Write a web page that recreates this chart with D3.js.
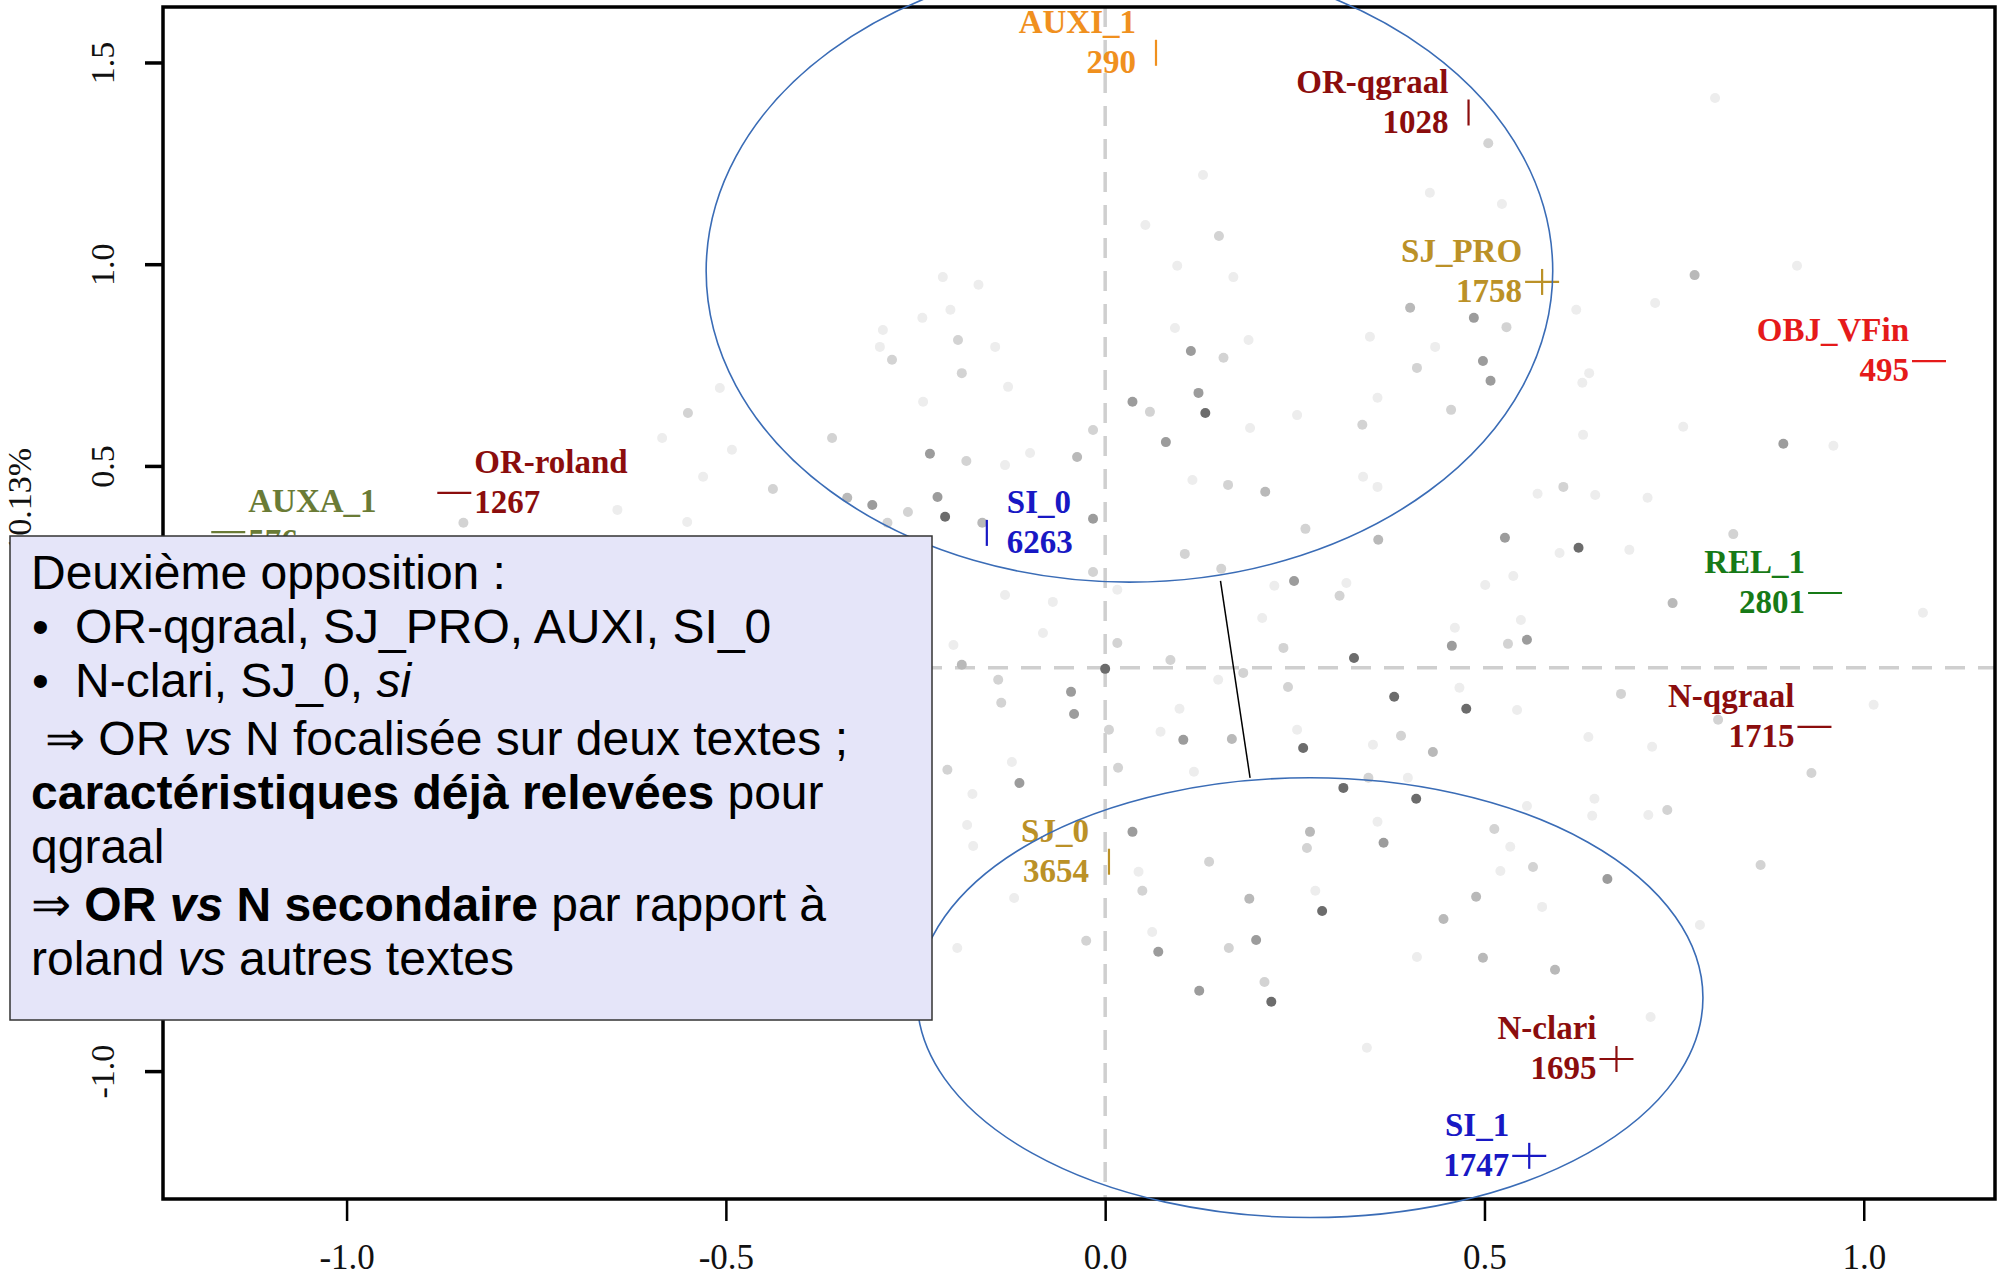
<!DOCTYPE html>
<html><head><meta charset="utf-8">
<script src="https://cdn.jsdelivr.net/npm/d3@7"></script>
<style>html,body{margin:0;padding:0;background:#fff;} svg{display:block;}</style>
</head><body>
<svg id="chart" width="2003" height="1278"></svg>
<script>
// ---------- data ----------
const xTicks = [-1.0, -0.5, 0.0, 0.5, 1.0];
const yTicks = [-1.0, -0.5, 0.0, 0.5, 1.0, 1.5];
const yTitle = "10.13%";

const dotX = [
-0.214,-0.167,-0.204,-0.241,-0.293,-0.194,-0.297,-0.281,-0.145,-0.189,
-0.128,-0.240,0.036,0.059,-0.016,0.080,-0.360,-0.550,-0.508,-0.492,
-0.231,-0.183,-0.037,-0.132,-0.099,-0.438,-0.530,-0.340,-0.307,-0.260,
-0.221,-0.211,-0.287,-0.162,-0.016,-0.016,0.016,-0.132,-0.069,-0.082,
-0.200,0.016,-0.189,0.000,0.086,-0.141,-0.045,-0.137,-0.041,0.005,
0.073,0.129,0.053,0.150,0.095,0.169,0.505,0.428,0.523,0.804,
0.402,0.486,0.529,0.725,0.621,0.435,0.349,0.189,0.092,0.113,
0.156,0.498,0.411,0.508,0.638,0.629,0.123,0.132,0.359,0.253,
0.339,0.456,0.191,0.630,0.162,0.211,0.115,0.340,0.359,0.604,
0.646,0.264,0.360,0.527,0.624,0.599,0.691,0.105,0.153,0.249,
0.223,0.318,0.309,0.207,0.548,0.461,0.235,0.457,0.531,0.556,
0.328,0.182,0.149,0.241,0.381,0.476,0.680,0.543,0.467,0.103,
0.167,0.390,0.261,0.637,0.098,0.253,0.432,0.353,-0.123,-0.208,
-0.113,0.017,0.117,-0.175,0.314,0.347,0.410,0.399,-0.182,-0.174,
0.036,0.270,0.266,0.367,0.359,0.137,0.044,0.049,-0.120,0.190,
0.277,0.286,0.446,-0.025,0.062,0.070,0.163,0.199,0.411,-0.195,
0.210,0.124,0.219,0.345,0.777,0.912,0.762,0.894,0.960,0.570,
0.715,0.828,0.538,0.501,0.748,1.078,0.808,1.013,0.721,0.931,
0.645,0.741,0.556,0.642,0.716,0.513,0.534,0.564,0.521,0.662,
0.864,0.489,0.576,0.784,0.498,0.593,0.719,-0.584,-0.643,-0.551,-0.846];

const dotY = [
0.968,0.949,0.887,0.867,0.837,0.812,0.795,0.763,0.795,0.730,
0.696,0.659,0.659,0.634,0.589,0.559,0.569,0.631,0.693,0.540,
0.530,0.512,0.522,0.502,0.532,0.443,0.473,0.421,0.403,0.386,
0.423,0.374,0.359,0.359,0.369,0.237,0.193,0.180,0.163,0.086,
0.056,0.061,0.007,-0.003,0.019,-0.030,-0.060,-0.087,-0.115,-0.154,
-0.159,1.221,1.097,1.070,0.996,0.968,1.300,1.177,1.149,1.412,
0.892,0.867,0.844,0.904,0.887,0.795,0.820,0.812,0.842,0.785,
0.768,0.760,0.743,0.711,0.730,0.706,0.681,0.631,0.669,0.626,
0.602,0.639,0.594,0.577,0.453,0.436,0.465,0.473,0.448,0.448,
0.428,0.344,0.317,0.322,0.297,0.284,0.292,0.282,0.245,0.215,
0.203,0.210,0.178,0.123,0.118,0.099,0.049,0.054,0.059,0.069,
0.024,-0.013,-0.030,-0.048,-0.072,-0.102,-0.065,-0.105,-0.050,-0.179,
-0.177,-0.169,-0.199,-0.172,-0.102,-0.154,-0.209,-0.191,-0.234,-0.253,
-0.286,-0.248,-0.258,-0.313,-0.298,-0.273,-0.325,-0.273,-0.390,-0.442,
-0.407,-0.407,-0.447,-0.434,-0.382,-0.481,-0.506,-0.553,-0.571,-0.573,
-0.553,-0.603,-0.623,-0.677,-0.655,-0.704,-0.695,-0.675,-0.717,-0.695,
-0.779,-0.801,-0.828,-0.942,0.973,0.996,0.597,0.555,0.550,0.431,
0.421,0.331,0.227,0.205,0.160,0.136,-0.129,-0.092,-0.196,-0.261,
-0.325,-0.353,-0.343,-0.367,-0.365,-0.400,-0.444,-0.494,-0.504,-0.524,
-0.489,-0.568,-0.593,-0.638,-0.719,-0.749,-0.866,0.569,0.391,0.361,0.359];

// quality level of each point (0 = faint ... 4 = strong)
const dotWeight = [
0,0,0,0,0,1,0,1,0,1,
0,0,3,1,1,3,1,1,0,0,
3,1,2,0,0,1,0,2,3,1,
3,4,1,2,3,1,0,0,0,0,
0,1,2,4,1,1,3,1,3,1,
0,0,0,1,0,0,1,0,0,0,
2,3,1,0,0,0,0,0,0,3,
1,3,1,3,0,0,3,4,0,0,
1,1,0,0,1,2,0,0,0,1,
0,1,2,3,4,0,0,1,1,3,
0,0,1,0,0,0,1,3,1,3,
4,1,0,1,4,4,1,0,0,3,
2,1,4,0,0,0,2,0,0,1,
3,1,0,0,4,1,4,0,0,0,
3,2,1,3,0,1,0,1,0,2,
0,4,2,1,0,3,1,3,0,0,
1,3,4,0,2,0,0,3,0,0,
0,1,0,0,2,0,1,0,0,1,
0,1,0,0,0,1,0,1,0,3,
1,2,0,0,2,2,0,0,0,0,1];

const labelNames  = ["AUXI_1","OR-qgraal","SJ_PRO","OBJ_VFin","OR-roland","AUXA_1","SI_0","REL_1","N-qgraal","SJ_0","N-clari","SI_1"];
const labelCounts = ["290","1028","1758","495","1267","576","6263","2801","1715","3654","1695","1747"];
const labelX      = [0.067,0.479,0.576,1.086,-0.858,-1.156,-0.156,0.949,0.935,0.005,0.674,0.559];
const labelY      = [1.524,1.376,0.956,0.760,0.433,0.336,0.334,0.185,-0.147,-0.481,-0.970,-1.210];
const labelMarks  = ["|","|","+","—","—","—","|","—","—","|","+","+"];
const labelKind   = ["AUXI","text","SJ","OBJ","text","AUXA","SI","REL","text","SJ","text","SI"];

// annotation ellipses (data units) and connector
const ellCX = [0.032, 0.270], ellCY = [0.983, -0.818], ellRX = [0.558, 0.518], ellRY = [0.771, 0.545];
const connX = [0.152, 0.191], connY = [0.215, -0.273];

// ---------- styles ----------
const kindColor = {AUXI:"#f0901e", text:"#8b0d0d", SJ:"#bb9127", OBJ:"#e51a1a", AUXA:"#6a7b36", SI:"#1818c4", REL:"#177a17"};
const weightColor = ["#ededed","#d3d3d3","#b9b9b9","#9c9c9c","#6c6c6c"];

const svg = d3.select("#chart");
const L = 163, R = 1995, T = 7, B = 1199;
const x = d3.scaleLinear().domain([-1.242, 1.173]).range([L, R]);
const y = d3.scaleLinear().domain([-1.317, 1.6375]).range([B, T]);

// dashed reference lines
svg.append("line").attr("x1", x(0)).attr("x2", x(0)).attr("y1", T).attr("y2", B)
  .attr("stroke", "#cfcfcf").attr("stroke-width", 3.5).attr("stroke-dasharray", "20,13");
svg.append("line").attr("x1", L).attr("x2", R).attr("y1", y(0)).attr("y2", y(0))
  .attr("stroke", "#cfcfcf").attr("stroke-width", 3.5).attr("stroke-dasharray", "20,13");

// points
const pts = d3.range(dotX.length).sort((a, b) => dotWeight[a] - dotWeight[b]);
svg.append("g").selectAll("circle").data(pts).join("circle")
  .attr("cx", i => x(dotX[i])).attr("cy", i => y(dotY[i])).attr("r", 5)
  .attr("fill", i => weightColor[dotWeight[i]]);

// frame
svg.append("rect").attr("x", L).attr("y", T).attr("width", R - L).attr("height", B - T)
  .attr("fill", "none").attr("stroke", "#000").attr("stroke-width", 3.5);

// axes
const fmt = d => d.toFixed(1);
const gx = svg.append("g").attr("transform", `translate(0,${B})`)
  .call(d3.axisBottom(x).tickValues(xTicks).tickSize(22).tickFormat(fmt));
gx.select(".domain").remove();
gx.selectAll(".tick line").attr("stroke", "#000").attr("stroke-width", 2.5);
gx.selectAll(".tick text").attr("y", 70).attr("dy", null)
  .attr("font-family", "Liberation Serif, serif").attr("font-size", 35).attr("fill", "#111");

const gy = svg.append("g").attr("transform", `translate(${L},0)`)
  .call(d3.axisLeft(y).tickValues(yTicks).tickSize(18).tickFormat(fmt));
gy.select(".domain").remove();
gy.selectAll(".tick line").attr("stroke", "#000").attr("stroke-width", 3.5);
gy.selectAll(".tick text").attr("x", null).attr("dy", null)
  .attr("text-anchor", "middle").attr("transform", "translate(-49,0) rotate(-90)")
  .attr("font-family", "Liberation Serif, serif").attr("font-size", 34).attr("fill", "#111");

svg.append("text").attr("transform", `translate(31,448) rotate(-90)`)
  .attr("text-anchor", "end").attr("font-family", "Liberation Serif, serif")
  .attr("font-size", 34).attr("fill", "#111").text(yTitle);

// labelled modalities
const lg = svg.append("g").selectAll("g").data(d3.range(labelNames.length)).join("g")
  .attr("transform", i => `translate(${x(labelX[i])},${y(labelY[i])})`)
  .attr("fill", i => kindColor[labelKind[i]]).attr("stroke", i => kindColor[labelKind[i]]);
lg.each(function(i) {
  const g = d3.select(this);
  const m = labelMarks[i];
  if (m === "|" || m === "+") g.append("line").attr("x1", 0).attr("x2", 0).attr("y1", -13).attr("y2", 13).attr("stroke-width", 2.2);
  if (m === "—" || m === "+") g.append("line").attr("x1", -17).attr("x2", 17).attr("y1", 0).attr("y2", 0).attr("stroke-width", 2.2);
  const left = labelX[i] < 0;
  const t = g.append("text").attr("stroke", "none")
    .attr("font-family", "Liberation Serif, serif").attr("font-weight", "bold").attr("font-size", 33)
    .attr("text-anchor", left ? "start" : "end");
  t.append("tspan").attr("x", left ? 20 : -20).attr("y", -20).text(labelNames[i]);
  t.append("tspan").attr("x", left ? 20 : -20).attr("y", 20).text(labelCounts[i]);
});

// ellipses + connector
svg.append("g").selectAll("ellipse").data([0, 1]).join("ellipse")
  .attr("cx", i => x(ellCX[i])).attr("cy", i => y(ellCY[i]))
  .attr("rx", i => x(ellCX[i] + ellRX[i]) - x(ellCX[i]))
  .attr("ry", i => y(ellCY[i] - ellRY[i]) - y(ellCY[i]))
  .attr("fill", "none").attr("stroke", "#3a6cb6").attr("stroke-width", 1.6);
svg.append("line").attr("x1", x(connX[0])).attr("y1", y(connY[0])).attr("x2", x(connX[1])).attr("y2", y(connY[1]))
  .attr("stroke", "#000").attr("stroke-width", 1.5);

// comment box
const bx = svg.append("g");
bx.append("rect").attr("x", 10).attr("y", 536).attr("width", 922).attr("height", 484)
  .attr("fill", "#e5e5f9").attr("stroke", "#333").attr("stroke-width", 1.5);
const lines = [
  [{x:31, t:"Deuxième opposition :"}],
  [{x:32, t:"•"}, {x:75, t:"OR-qgraal, SJ_PRO, AUXI, SI_0"}],
  [{x:32, t:"•"}, {x:75, t:"N-clari, SJ_0, "}, {t:"si", i:1}],
  [{x:45, t:"⇒ OR "}, {t:"vs", i:1}, {t:" N focalisée sur deux textes ;"}],
  [{x:31, t:"caractéristiques déjà relevées", b:1}, {t:" pour"}],
  [{x:31, t:"qgraal"}],
  [{x:31, t:"⇒ "}, {t:"OR ", b:1}, {t:"vs", b:1, i:1}, {t:" N secondaire", b:1}, {t:" par rapport à"}],
  [{x:31, t:"roland "}, {t:"vs", i:1}, {t:" autres textes"}]
];
const baselines = [589, 643, 697, 755, 809, 863, 921, 975];
lines.forEach((ln, k) => {
  const t = bx.append("text").attr("y", baselines[k]).attr("font-family", "Liberation Sans, Arial, sans-serif")
    .attr("font-size", 48).attr("fill", "#000").style("white-space", "pre");
  ln.forEach(s => {
    const ts = t.append("tspan").text(s.t);
    if (s.x !== undefined) ts.attr("x", s.x);
    if (s.b) ts.attr("font-weight", "bold");
    if (s.i) ts.attr("font-style", "italic");
  });
});
</script>
</body></html>
